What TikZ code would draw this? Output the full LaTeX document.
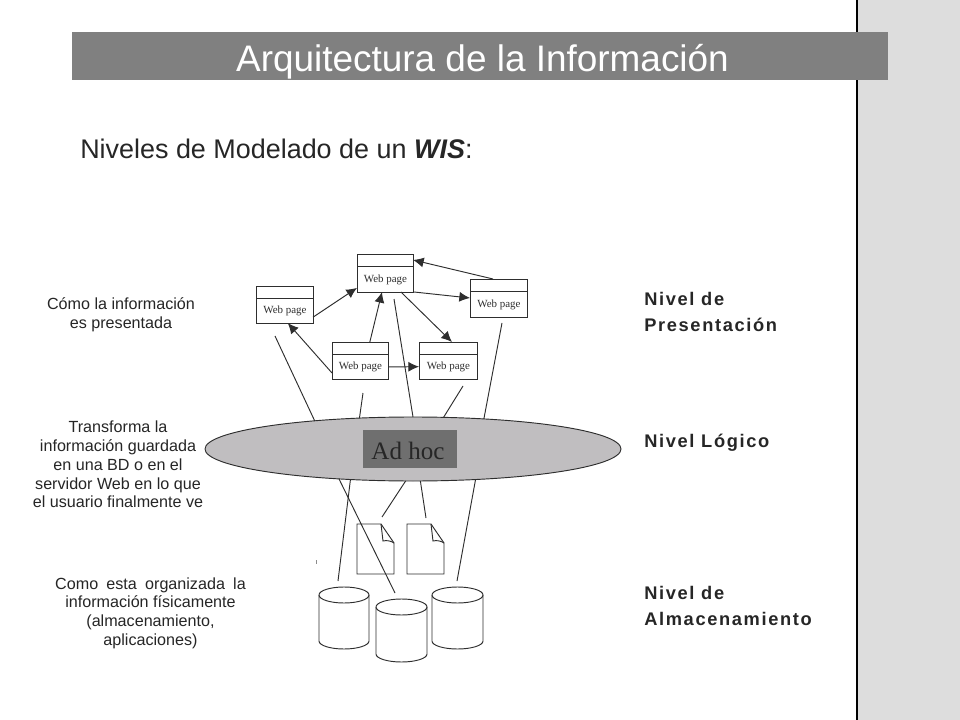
\documentclass[tikz,border=0pt]{standalone}
\usepackage{fontspec}
\setmainfont{Liberation Sans}
\newfontfamily\wpfont{Liberation Serif}
\newfontfamily\lvlfont[LetterSpace=9]{Liberation Sans}
\usetikzlibrary{arrows.meta,calc,shapes.geometric}
\definecolor{inkc}{HTML}{2E2E2E}
\definecolor{barc}{HTML}{808080}
\definecolor{panelc}{HTML}{DDDDDD}
\definecolor{ovalc}{HTML}{C0BEC0}
\definecolor{adhocc}{HTML}{6F6F6F}
\tikzset{
  ln/.style={draw=inkc,line width=0.7pt},
  arr/.style={ln,-{Latex[length=8pt,width=7.5pt]}},
  pagebox/.style={ln,rectangle,inner sep=0pt,outer sep=0pt,fill=white},
  pagetxt/.style={font=\wpfont\fontsize{8.2}{10}\selectfont,text=inkc,inner sep=0pt},
  sidetxt/.style={font=\fontsize{12.1}{14.05}\selectfont,align=center,text=black!85,inner sep=0pt},
  lvltxt/.style={font=\lvlfont\bfseries\fontsize{13.7}{19.5}\selectfont,align=left,anchor=north west,text=black!85,inner sep=0pt},
}
\newcommand{\webpage}[5]{%
  \node[pagebox,minimum width=#4*0.75pt,minimum height=#5*0.75pt] (#1) at (#2,#3) {};
  \draw[ln] ($(#1.north west)+(0,12.5)$) -- ($(#1.north east)+(0,12.5)$);
  \node[pagetxt] (#1t) at ($(#1)+(0.5,6.5)$) {Web page};
}
\newcommand{\drum}[4]{% left, right, top, bottom
  \pgfmathsetmacro{\rxx}{(#2-#1)/2}
  \pgfmathsetmacro{\cxx}{(#1+#2)/2}
  \draw[ln] (#1,#3+8) -- (#1,#4-8) arc[start angle=180,end angle=0,x radius=\rxx,y radius=8] -- (#2,#3+8);
  \draw[ln] (\cxx,#3+8) ellipse[x radius=\rxx,y radius=8];
}
\newcommand{\docfile}[4]{% left, right, top, bottom
  \draw[ln] (#1,#3) -- (#2-13,#3) -- (#2,#3+19) -- (#2,#4) -- (#1,#4) -- cycle;
  \draw[ln] (#2-13,#3) -- (#2-11,#3+17) .. controls (#2-7,#3+16) and (#2-3,#3+17) .. (#2,#3+19);
}
\begin{document}
\begin{tikzpicture}[x=0.75pt,y=-0.75pt]
\useasboundingbox (0,0) rectangle (960,720);
\fill[white] (0,0) rectangle (960,720);
\fill[panelc] (857,0) rectangle (960,720);
\draw[black,line width=1.5pt] (856.5,0) -- (856.5,720);
\fill[barc] (72,32) rectangle (888,80);
\node[text=white,font=\fontsize{27.7}{30}\selectfont,inner sep=0pt,anchor=base] (title) at (482.5,71.5) {Arquitectura de la Información};
\node[anchor=base west,font=\fontsize{20.2}{24}\selectfont,text=black!85,inner sep=0pt] (sub) at (80,159) {Niveles de Modelado de un \textbf{\textit{WIS}}:};

\node[sidetxt] (s1) at (121,315) {Cómo la información\\es presentada};
\node[sidetxt] (s2) at (118,464.5) {Transforma la\\información guardada\\en una BD o en el\\servidor Web en lo que\\el usuario finalmente ve};
\node[sidetxt] (s3) at (150.5,613) {Como\hspace{2.8pt} esta\hspace{2.8pt} organizada\hspace{2.8pt} la\\información físicamente\\(almacenamiento,\\aplicaciones)};

\node[lvltxt] (l1) at (644,291.5) {Nivel de\\Presentación};
\node[lvltxt] (l2) at (644,434) {Nivel Lógico};
\node[lvltxt] (l3) at (644,586) {Nivel de\\Almacenamiento};

\webpage{pl}{284.5}{304.5}{57}{37}
\webpage{pt}{385}{273}{56}{38}
\webpage{pr}{498.5}{298}{57}{38}
\webpage{pb}{360}{360.5}{56}{37}
\webpage{pc}{448}{360.5}{58}{37}

\draw[arr] (pl.-24) -- (pt.208);
\draw[arr] (pb.204) -- (pl.-80);
\draw[arr] (pb.62) -- (pt.261);
\draw[arr] (pb.-13) -- (pc.192);
\draw[arr] (pt.-50) -- (pc.78);
\draw[arr] (pt.-34) -- (pr.180);
\draw[arr] (pr.106) -- (pt.25);

\node[ellipse,draw=inkc,line width=0.7pt,fill=ovalc,minimum width=416*0.75pt,minimum height=64*0.75pt,inner sep=0pt,outer sep=0pt] (oval) at (413,449) {};
\node[fill=adhocc,minimum width=94*0.75pt,minimum height=38*0.75pt,inner sep=0pt,outer sep=0pt] (adhoc) at (410,448.5) {};
\node[font=\wpfont\fontsize{18.8}{20}\selectfont,text=black!85,inner sep=0pt] (adhoctxt) at (408,451) {Ad hoc};

\coordinate (u1) at (275,336);
\coordinate (u2) at (363,393);
\coordinate (u3) at (394,299);
\coordinate (u4) at (463,386);
\coordinate (u5) at (502,323);
\draw[ln] (u1) -- (oval.164);
\draw[ln] (u2) -- (oval.150);
\draw[ln] (u3) -- (oval.90);
\draw[ln] (u4) -- (oval.46);
\draw[ln] (u5) -- (oval.23);

\docfile{357}{394}{524}{574}
\docfile{407}{444}{524}{574}

\drum{319}{369}{587}{649}
\drum{376}{427}{599}{662}
\drum{432}{483}{587}{649}

\coordinate (d1) at (338,581);
\coordinate (d2) at (395,593);
\coordinate (d3) at (382,517);
\coordinate (d4) at (426,518);
\coordinate (d5) at (457,581);
\draw[ln] (oval.206) -- (d1);
\draw[ln] (oval.202) -- (d2);
\draw[ln] (oval.257) -- (d3);
\draw[ln] (oval.283) -- (d4);
\draw[ln] (oval.-26) -- (d5);
\draw[black!45,line width=0.5pt] (316,560) -- (316,564);
\end{tikzpicture}
\end{document}
